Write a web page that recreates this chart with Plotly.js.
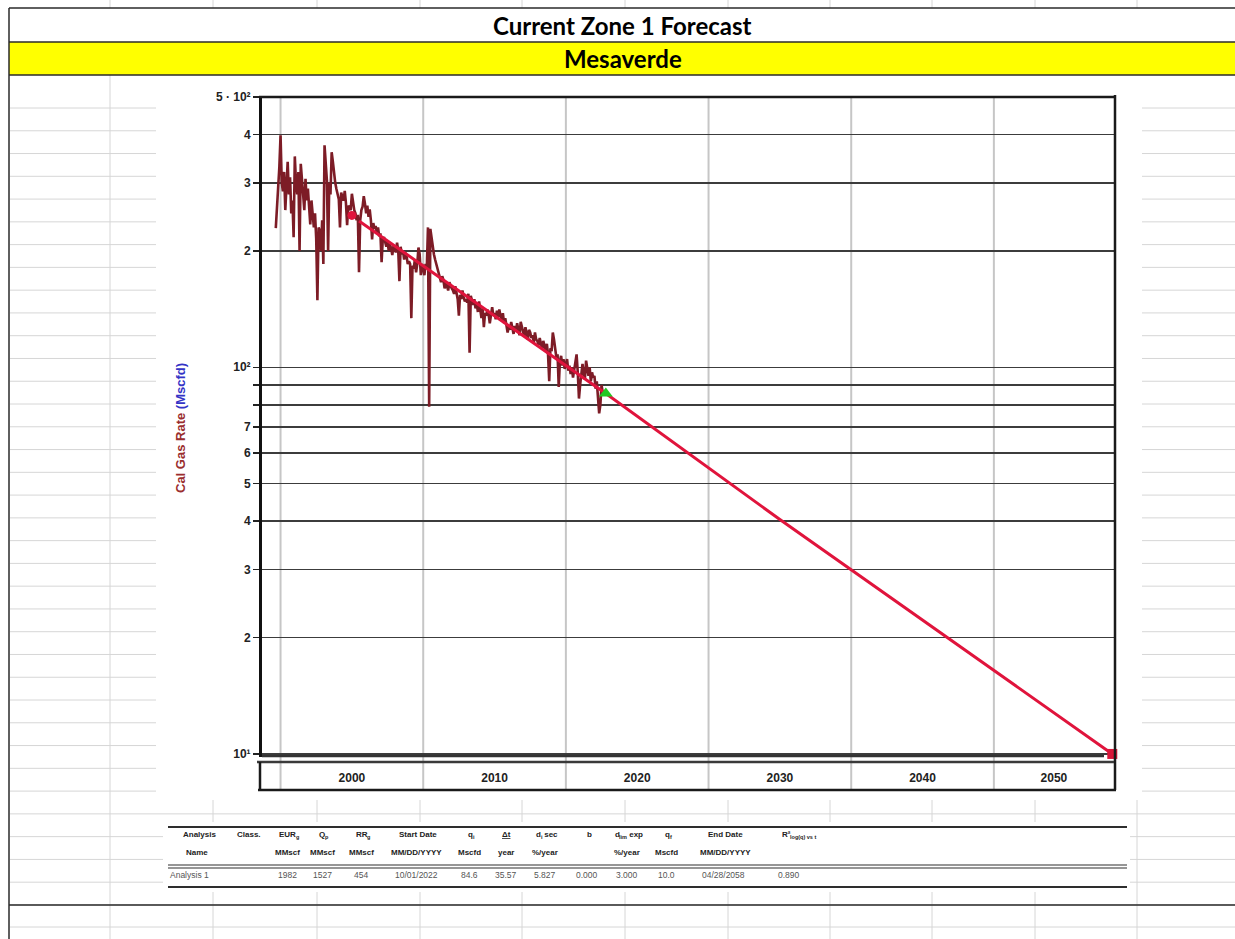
<!DOCTYPE html>
<html><head><meta charset="utf-8">
<script src="https://cdn.plot.ly/plotly-3.0.1.min.js"></script>
<style>html,body{margin:0;padding:0;background:#fff;}#chart{width:1235px;height:939px;}</style>
</head><body><div id="chart"></div>
<script>
// ---------------- DATA ----------------
// Monthly calendar-day gas rate, Mscfd. rate1994 starts in September 1994.
const rate1994 = [229, 258, 300, 330];
const rate1995 = [398, 300, 285, 320, 255, 300, 340, 280, 310, 250, 270, 217];
const rate1996 = [351, 300, 280, 320, 200, 336, 310, 290, 255, 307, 270, 290];
const rate1997 = [250, 234, 270, 245, 230, 250, 215, 149, 230, 225, 200, 240];
const rate1998 = [185, 375, 330, 304, 200, 300, 280, 360, 340, 316, 300, 289];
const rate1999 = [280, 272, 230, 283, 275, 270, 286, 266, 233, 262, 258, 255];
const rate2000 = [281, 263, 255, 250, 240, 248, 176, 240, 255, 260, 277, 265];
const rate2001 = [250, 262, 245, 256, 240, 214, 236, 228, 232, 222, 230, 218];
const rate2002 = [222, 187, 215, 217, 210, 205, 212, 200, 208, 203, 195, 206];
const rate2003 = [204, 198, 210, 200, 167, 205, 196, 200, 190, 198, 194, 185];
const rate2004 = [188, 185, 134, 183, 180, 190, 176, 185, 204, 196, 173, 185];
const rate2005 = [180, 173, 185, 180, 230, 79, 228, 215, 205, 196, 190, 185];
const rate2006 = [180, 176, 170, 166, 172, 168, 160, 165, 162, 158, 166, 162];
const rate2007 = [160, 158, 155, 162, 157, 150, 136, 154, 150, 158, 152, 148];
const rate2008 = [150, 147, 155, 109, 153, 148, 145, 150, 142, 146, 139, 148];
const rate2009 = [140, 134, 142, 127, 138, 136, 141, 137, 130, 139, 143, 136];
const rate2010 = [138, 133, 140, 135, 141, 136, 132, 138, 130, 134, 127, 123];
const rate2011 = [128, 125, 131, 126, 122, 128, 124, 130, 126, 121, 131, 127];
const rate2012 = [124, 120, 127, 122, 118, 125, 123, 119, 121, 116, 123, 118];
const rate2013 = [117, 114, 119, 115, 112, 117, 113, 110, 115, 108, 92, 112];
const rate2014 = [110, 123, 118, 112, 106, 108, 89, 104, 107, 101, 105, 99];
const rate2015 = [103, 105, 98, 101, 96, 100, 94, 99, 104, 108, 97, 83];
const rate2016 = [90, 98, 102, 96, 93, 104, 99, 95, 100, 92, 97, 94];
const rate2017 = [95, 88, 92, 85, 76, 80, 90, 86];
const firstYear = 1994, firstMonthIndex = 8; // September 1994

// Forecast (exponential decline)
const forecastYear = [2000.5, 2017.8, 2030.0, 2041.7, 2053.3];
const forecastRate = [239, 85.5, 40.4, 20, 10];
// Special markers
const analysisStartYear = [2000.0], analysisStartRate = [247];
const forecastStartYear = [2017.8], forecastStartRate = [85.5];
const forecastEndYear = [2053.3], forecastEndRate = [10];

// Axis labels
const xTickText = ['2000', '2010', '2020', '2030', '2040', '2050'];
const xGridYears = [1995, 2005, 2015, 2025, 2035, 2045];
const yTickVals = [10, 20, 30, 40, 50, 60, 70, 100, 200, 300, 400, 500];
const yTickText = ['10¹', '2', '3', '4', '5', '6', '7', '10²', '2', '3', '4', '5 · 10²'];
const yUnlabelledGrid = [80, 90];

// Table text: each cell is [text, subscript, text after subscript]
const tableHead1 = [['Analysis'], ['Class.'], ['EUR', 'g'], ['Q', 'p'], ['RR', 'g'], ['Start Date'], ['q', 'i'],
  ['Δt'], ['d', 'i', ' sec'], ['b'], ['d', 'lim', ' exp'], ['q', 'f'], ['End Date'], ['R²', 'log(q) vs t']];
const tableHead2 = ['Name', '', 'MMscf', 'MMscf', 'MMscf', 'MM/DD/YYYY', 'Mscfd', 'year', '%/year', '', '%/year', 'Mscfd', 'MM/DD/YYYY', ''];
const tableRow1 = ['Analysis 1', '', '1982', '1527', '454', '10/01/2022', '84.6', '35.57', '5.827', '0.000', '3.000', '10.0', '04/28/2058', '0.890'];

// ---------------- LAYOUT HELPERS ----------------
const L = 262, R = 1114, T = 97, B = 757, PW = 1235, PH = 939;
const W = R - L, H = B - T;
const px = x => (x - L) / W;
const py = y => (B - y) / H;
const xRange = [1993.70, 2053.42];
const xp = yr => (yr - xRange[0]) / (xRange[1] - xRange[0]);

const allRates = [].concat(rate1994, rate1995, rate1996, rate1997, rate1998, rate1999, rate2000,
  rate2001, rate2002, rate2003, rate2004, rate2005, rate2006, rate2007, rate2008, rate2009,
  rate2010, rate2011, rate2012, rate2013, rate2014, rate2015, rate2016, rate2017);
const allYears = allRates.map((v, i) => firstYear + (firstMonthIndex + i) / 12);

const cellBounds = xGridYears.concat([xRange[1]]);
const xTickPos = xTickText.map((t, i) => (cellBounds[i] + cellBounds[i + 1]) / 2);

const shapes = [];
function hline(y, x0, x1, color, width, layer) {
  shapes.push({type: 'line', xref: 'paper', yref: 'paper', x0: px(x0), x1: px(x1), y0: py(y), y1: py(y),
    line: {color: color, width: width}, layer: layer || 'above'});
}
function vline(x, y0, y1, color, width, layer) {
  shapes.push({type: 'line', xref: 'paper', yref: 'paper', x0: px(x), x1: px(x), y0: py(y0), y1: py(y1),
    line: {color: color, width: width}, layer: layer || 'above'});
}
function rect(x0, y0, x1, y1, fill) {
  shapes.push({type: 'rect', xref: 'paper', yref: 'paper', x0: px(x0), x1: px(x1), y0: py(y1), y1: py(y0),
    line: {width: 0}, fillcolor: fill, layer: 'below'});
}

// Spreadsheet background grid
const sheetGray = '#d6d6d6';
const cols = [110, 213, 317, 420, 522, 625, 728, 830, 932, 1035, 1137];
cols.forEach(c => vline(c, 0, 8, sheetGray, 1, 'below'));
cols.forEach(c => vline(c, 905, PH, sheetGray, 1, 'below'));
const rows = [];
for (let k = 0; k <= 35; k++) rows.push(108 + k * 22.77);
rows.forEach(r => {
  if (r < 800) {
    hline(r, 10, 156, sheetGray, 1, 'below');
    hline(r, 1142, PW, sheetGray, 1, 'below');
  } else if (r < 822 || r > 892) {
    hline(r, 10, PW, sheetGray, 1, 'below');
  } else {
    hline(r, 10, 163, sheetGray, 1, 'below');
    hline(r, 1130, PW, sheetGray, 1, 'below');
  }
});
vline(110, 75, 800, sheetGray, 1, 'below');
cols.forEach(c => {
  if (c > 163 && c < 1130) { vline(c, 800, 822, sheetGray, 1, 'below'); vline(c, 892, 905, sheetGray, 1, 'below'); }
  else vline(c, 800, 905, sheetGray, 1, 'below');
});
hline(927, 10, PW, sheetGray, 1, 'below');

// Header cells
rect(9, 42, PW + 5, 75, '#ffff00');
hline(8, 9, PW, '#2a2a2a', 1.5);
hline(42, 9, PW, '#2a2a2a', 1.5);
hline(75, 9, PW, '#2a2a2a', 1.5);
hline(905, 9, PW, '#2a2a2a', 1.5);
vline(9, 8, PH, '#2a2a2a', 1.5);

// Vertical grid of the chart (plot area + year band)
xGridYears.forEach(yr => {
  shapes.push({type: 'line', xref: 'paper', yref: 'paper', x0: xp(yr), x1: xp(yr), y0: py(790), y1: py(97),
    line: {color: '#c6c6c6', width: 2}, layer: 'below'});
});
// Chart frame
hline(97, 259, R, '#1a1a1a', 2.5);
vline(R + 1, 95, 790, '#1a1a1a', 2.5);
hline(756, L, R - 10, '#333', 2.5);
hline(762, 257, R, '#3a3a3a', 2.5);
hline(790, 258, R + 2, '#1a1a1a', 2.5);
vline(260, 762, 790, '#1a1a1a', 2.5);

// Table lines
hline(827, 168, 1127, '#2e2e2e', 2);
hline(865, 168, 1127, '#2e2e2e', 1.2);
hline(868, 168, 1127, '#2e2e2e', 1.2);
hline(887, 168, 1127, '#2e2e2e', 2);

// ---------------- ANNOTATIONS ----------------
const annotations = [];
function txt(x, y, s, font, extra) {
  annotations.push(Object.assign({xref: 'paper', yref: 'paper', x: px(x), y: py(y), text: s, showarrow: false,
    xanchor: 'center', yanchor: 'middle', font: font}, extra || {}));
}
const headFont = {family: 'Lato, Open Sans, sans-serif', size: 24, weight: 'bold', color: '#000'};
txt(622, 26, 'Current Zone 1 Forecast', headFont);
txt(623, 59, 'Mesaverde', headFont);

txt(181, 428, "<span style='color:#9a2e2e'>Cal Gas Rate</span> <span style='color:#3434c6'>(Mscfd)</span>",
  {family: 'Liberation Sans, Arial, sans-serif', size: 13, weight: 'bold'}, {textangle: -90});

const colX = [197, 247, 287, 322, 361, 416, 469, 506, 545, 587, 627, 666, 723, 797];
const tableFamily = 'Liberation Sans, Arial, sans-serif';
const tHead = {family: tableFamily, size: 8, weight: 'bold', color: '#222'};
const tSub = {family: tableFamily, size: 5.5, weight: 'bold', color: '#222'};
const tData = {family: tableFamily, size: 8.5, color: '#555'};

// measure text to lay out a header with a real subscript as separate texts
const ctx = document.createElement('canvas').getContext('2d');
function measure(s, f) {
  ctx.font = 'bold ' + f.size + 'px "Liberation Sans", Arial, sans-serif';
  return ctx.measureText(s).width;
}
function headerCell(cx, y, parts) {
  const segs = [];
  if (parts[0]) segs.push({t: parts[0], f: tHead, dy: 0});
  if (parts[1]) segs.push({t: parts[1], f: tSub, dy: 2.5});
  if (parts[2]) segs.push({t: parts[2], f: tHead, dy: 0});
  const widths = segs.map(s => measure(s.t, s.f));
  const total = widths.reduce((a, b) => a + b, 0);
  let x = cx - total / 2;
  segs.forEach((s, i) => {
    txt(x, y + s.dy, s.t, s.f, {xanchor: 'left'});
    x += widths[i];
  });
}
tableHead1.forEach((p, i) => {
  if (p[0] === 'Δt') { txt(colX[i], 834, '<u>Δt</u>', tHead); return; }
  headerCell(colX[i], 834, p);
});
tableHead2.forEach((s, i) => { if (s) txt(colX[i] + (i === 12 ? 2 : 0), 852, s, tHead); });
tableRow1.forEach((s, i) => {
  if (!s) return;
  if (i === 0) txt(168, 875, s, tData, {xanchor: 'left'});
  else txt(i === 13 ? 789 : colX[i], 875, s, tData);
});

// ---------------- TRACES ----------------
const traces = [
  {x: allYears, y: allRates, type: 'scatter', mode: 'lines', line: {color: '#7d1c26', width: 2.6}, hoverinfo: 'x+y'},
  {x: forecastYear, y: forecastRate, type: 'scatter', mode: 'lines', line: {color: '#e0143c', width: 3}},
  {x: analysisStartYear, y: analysisStartRate, type: 'scatter', mode: 'markers',
    marker: {symbol: 'circle', size: 9, color: '#e0143c'}},
  {x: forecastStartYear, y: forecastStartRate, type: 'scatter', mode: 'markers',
    marker: {symbol: 'triangle-up', size: 12, color: '#22c822'}},
  {x: forecastEndYear, y: forecastEndRate, type: 'scatter', mode: 'markers', cliponaxis: false,
    marker: {symbol: 'square', size: 10, color: '#d8173a'}}
];

const tickFont = {family: 'Liberation Sans, Arial, sans-serif', size: 12, weight: 'bold', color: '#222'};
const layout = {
  width: PW, height: PH,
  margin: {l: L, r: PW - R, t: T, b: PH - B, pad: 0},
  paper_bgcolor: '#ffffff', plot_bgcolor: 'rgba(0,0,0,0)',
  showlegend: false,
  xaxis: {type: 'linear', range: xRange, tickmode: 'array', tickvals: xTickPos, ticktext: xTickText,
    showgrid: false, zeroline: false, showline: false, ticks: 'outside', ticklen: 10,
    tickcolor: 'rgba(0,0,0,0)', tickfont: {family: 'Liberation Sans, Arial, sans-serif', size: 12, weight: 'bold', color: '#222'}},
  yaxis: {type: 'log', range: [Math.log10(9.82), Math.log10(500)], tickmode: 'array', tickvals: yTickVals,
    ticktext: yTickText, showgrid: true, gridcolor: '#3c3c3c', gridwidth: 1.5, zeroline: false,
    showline: true, linecolor: '#111', linewidth: 3, ticks: 'outside', ticklen: 6, tickwidth: 1.5,
    tickcolor: '#222', tickfont: tickFont,
    minor: {tickmode: 'array', tickvals: yUnlabelledGrid, showgrid: true, gridcolor: '#3c3c3c', gridwidth: 1.5,
      ticks: 'outside', ticklen: 6, tickwidth: 1.5, tickcolor: '#222'}},
  shapes: shapes,
  annotations: annotations
};
Plotly.newPlot('chart', traces, layout, {displayModeBar: false, staticPlot: true});
</script>
</body></html>
